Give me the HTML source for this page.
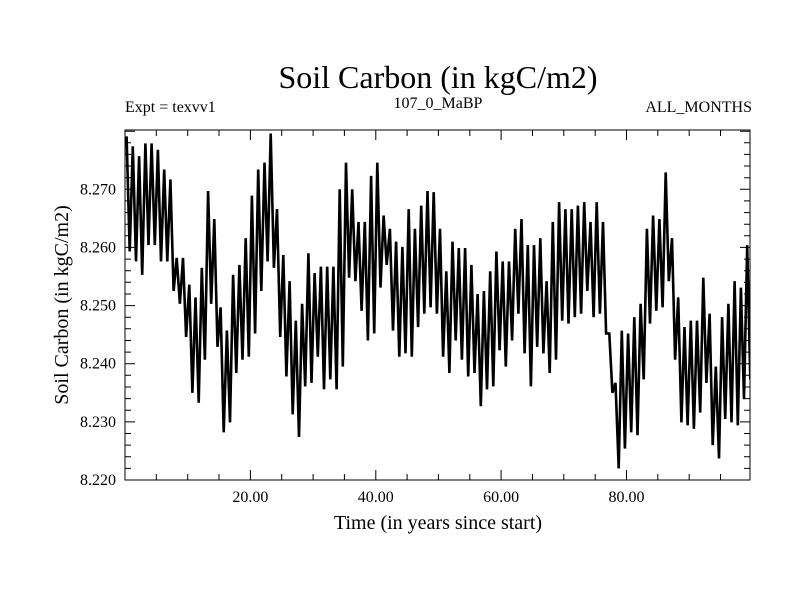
<!DOCTYPE html>
<html><head><meta charset="utf-8"><style>
body{margin:0;background:#fff}
svg text{font-family:"Liberation Serif",serif;fill:#000}
</style></head><body>
<svg id="chart" width="800" height="600">
<text x="438" y="88" font-size="32" text-anchor="middle">Soil Carbon (in kgC/m2)</text>
<text x="125" y="112" font-size="16">Expt = texvv1</text>
<text x="438" y="108" font-size="16" text-anchor="middle">107_0_MaBP</text>
<text x="752" y="112" font-size="16" text-anchor="end">ALL_MONTHS</text>
<text x="438" y="529" font-size="20" text-anchor="middle">Time (in years since start)</text>
<text transform="translate(68,305) rotate(-90)" font-size="20" text-anchor="middle">Soil Carbon (in kgC/m2)</text>
<g id="axes"></g>
<clipPath id="clip"><rect x="125" y="130" width="625" height="350"/></clipPath>
<path id="line" clip-path="url(#clip)" fill="none" stroke="#000" stroke-width="2.6" stroke-linejoin="miter"/>
<rect x="125" y="130" width="625" height="350" fill="none" stroke="#000" stroke-width="1"/>
</svg>
<script>
const yearHighs=[8.2791,8.2774,8.2757,8.2779,8.2779,8.2768,8.2734,8.2717,8.2582,8.2582,8.2536,8.2514,8.2565,8.2697,8.2649,8.2497,8.2457,8.2553,8.2570,8.2616,8.2689,8.2734,8.2746,8.2796,8.2666,
8.2587,8.2542,8.2474,8.2503,8.2590,8.2556,8.2567,8.2567,8.2567,8.2700,8.2746,8.2700,8.2644,8.2644,8.2723,8.2746,8.2655,8.2632,8.2610,8.2601,8.2666,8.2632,8.2672,8.2697,8.2695,
8.2632,8.2559,8.2610,8.2599,8.2599,8.2570,8.2520,8.2525,8.2559,8.2593,8.2576,8.2576,8.2632,8.2649,8.2604,8.2604,8.2616,8.2542,8.2644,8.2678,8.2666,8.2666,8.2672,8.2678,8.2644,
8.2678,8.2644,8.2452,8.2367,8.2457,8.2452,8.2480,8.2503,8.2632,8.2655,8.2649,8.2729,8.2616,8.2514,8.2463,8.2474,8.2474,8.2548,8.2486,8.2395,8.2480,8.2503,8.2542,8.2531,8.2604,8.2576];
const yearLows=[8.2593,8.2576,8.2553,8.2604,8.2604,8.2576,8.2576,8.2525,8.2503,8.2446,8.2350,8.2333,8.2407,8.2503,8.2429,8.2282,8.2299,8.2384,8.2407,8.2412,8.2452,8.2525,8.2576,8.2565,8.2446,
8.2378,8.2313,8.2274,8.2361,8.2367,8.2412,8.2356,8.2373,8.2356,8.2395,8.2548,8.2542,8.2491,8.2440,8.2452,8.2531,8.2570,8.2457,8.2412,8.2418,8.2412,8.2463,8.2486,8.2497,8.2486,
8.2412,8.2384,8.2440,8.2407,8.2378,8.2384,8.2327,8.2356,8.2361,8.2423,8.2395,8.2440,8.2486,8.2418,8.2361,8.2429,8.2418,8.2384,8.2407,8.2474,8.2469,8.2480,8.2486,8.2525,8.2480,
8.2486,8.2452,8.2350,8.2220,8.2254,8.2282,8.2277,8.2373,8.2469,8.2491,8.2497,8.2542,8.2407,8.2299,8.2294,8.2288,8.2316,8.2367,8.2260,8.2237,8.2305,8.2299,8.2294,8.2339,8.2373,8.2384];
const yTicks=[8.220,8.230,8.240,8.250,8.260,8.270];
const yTickLabels=["8.220","8.230","8.240","8.250","8.260","8.270"];
const xTicks=[20,40,60,80];
const xTickLabels=["20.00","40.00","60.00","80.00"];

const L=125,R=750,T=130,B=480,X0=0,X1=99.7,Y0=8.2200,Y1=8.2802;
const sx=v=>L+(v-X0)/(X1-X0)*(R-L);
const sy=v=>B-(v-Y0)/(Y1-Y0)*(B-T);
const NS="http://www.w3.org/2000/svg";
const axes=document.getElementById('axes');
function mk(tag,attrs){const e=document.createElementNS(NS,tag);for(const k in attrs)e.setAttribute(k,attrs[k]);axes.appendChild(e);return e;}
let tp="";
for(let v=8.220;v<=8.2802;v+=0.002){const y=sy(v).toFixed(1);const maj=Math.abs(Math.round(v*100)/100-v)<1e-6;const len=maj?10:6;tp+=`M${L},${y}h${len}M${R},${y}h${-len}`;}
for(let v=5;v<100;v+=5){const x=sx(v).toFixed(1);const len=(v%20===0)?10:6;tp+=`M${x},${B}v${-len}M${x},${T}v${len}`;}
const tk=mk('path',{d:tp,stroke:'#000','stroke-width':1,fill:'none'});


yTicks.forEach((v,i)=>{const t=mk('text',{x:116,y:sy(v)+5,'font-size':16,'text-anchor':'end'});t.textContent=yTickLabels[i];

});
xTicks.forEach((v,i)=>{const t=mk('text',{x:sx(v),y:502,'font-size':16,'text-anchor':'middle'});t.textContent=xTickLabels[i];

});
let d="";
yearHighs.forEach((h,i)=>{d+=(i?"L":"M")+sx(i+0.25).toFixed(1)+","+sy(h).toFixed(1)+"L"+sx(i+0.75).toFixed(1)+","+sy(yearLows[i]).toFixed(1);});
document.getElementById('line').setAttribute('d',d);
</script>
</body></html>
